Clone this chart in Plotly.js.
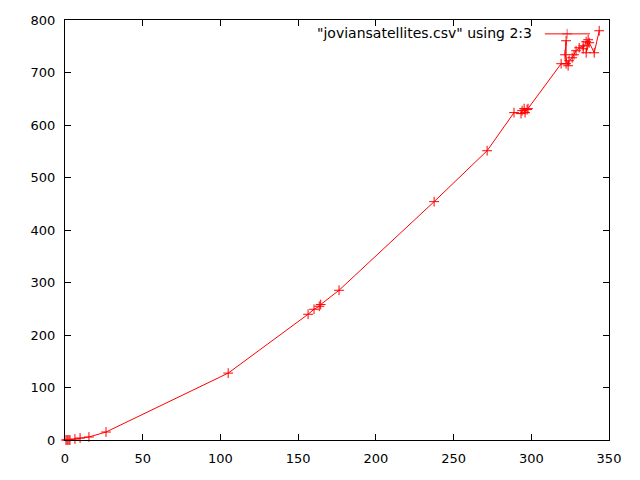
<!DOCTYPE html>
<html>
<head>
<meta charset="utf-8">
<script src="https://cdn.plot.ly/plotly-3.0.1.min.js"></script>
<style>html,body{margin:0;padding:0;background:#fff;}#chart{width:640px;height:480px;}</style>
</head>
<body>
<div id="chart"></div>
<script>
// Data (column 2 vs column 3)
const xValues = [0.6, 1.3, 1.9, 2.6, 3.2, 6.4, 9.7, 15.4, 26.4, 105.0,
  156.4, 160.2, 163.6, 164.5, 176.3, 237.5, 271.6,
  288.9, 293.4, 294.1, 295.4, 296.0, 297.3, 297.9,
  319.2, 322.4, 322.4, 321.7, 323.7, 324.3, 326.3, 327.5, 328.8, 330.8,
  333.4, 333.4, 335.3, 336.6, 335.3, 337.3, 340.5, 343.7];
const yValues = [0, 0, 0, 0, 0, 1.9, 3.8, 5.7, 15.2, 127.4,
  239.5, 249.0, 254.7, 258.0, 285.2, 454.0, 551.0,
  623.6, 621.7, 627.4, 631.2, 623.6, 629.3, 631.2,
  716.7, 716.7, 760.5, 733.8, 712.9, 722.4, 728.1, 733.8, 741.4, 747.1,
  750.9, 745.2, 758.6, 762.4, 737.6, 756.7, 737.6, 779.5];
const seriesName = '"joviansatellites.csv" using 2:3';
const xTicks = [0, 50, 100, 150, 200, 250, 300, 350];
const yTicks = [0, 100, 200, 300, 400, 500, 600, 700, 800];

const red = '#ff0000';
const font = {family: 'DejaVu Sans, sans-serif', size: 13, color: '#000'};
const keyFont = {family: 'DejaVu Sans, sans-serif', size: 14, color: '#000'};

const traces = [
  {
    x: xValues, y: yValues, type: 'scatter', mode: 'lines+markers',
    name: seriesName, cliponaxis: false,
    line: {color: red, width: 1},
    marker: {symbol: 'cross-thin-open', size: 7, line: {color: red, width: 1}, color: red},
    showlegend: false
  },
  {
    // legend sample (gnuplot-style key: text then line sample)
    x: [0.882, 0.923, 0.965], y: [0.967, 0.967, 0.967],
    xaxis: 'x2', yaxis: 'y2', type: 'scatter', mode: 'lines+markers',
    line: {color: red, width: 1},
    marker: {symbol: 'cross-thin-open', size: [0, 7, 0], line: {color: red, width: 1}},
    showlegend: false, hoverinfo: 'skip'
  }
];

const layout = {
  width: 640, height: 480,
  margin: {l: 65, r: 31, t: 20, b: 40, pad: 0},
  paper_bgcolor: '#fff', plot_bgcolor: '#fff',
  font: font,
  showlegend: false,
  xaxis: {
    range: [0, 350], tickvals: xTicks, ticktext: xTicks.map(String),
    ticks: 'inside', ticklen: 6, tickcolor: '#000', tickwidth: 1,
    showline: true, linecolor: '#000', linewidth: 1, mirror: 'ticks',
    showgrid: false, zeroline: false, tickfont: font, ticklabelstandoff: 6
  },
  yaxis: {
    range: [0, 800], tickvals: yTicks, ticktext: yTicks.map(String),
    ticks: 'inside', ticklen: 6, tickcolor: '#000', tickwidth: 1,
    showline: true, linecolor: '#000', linewidth: 1, mirror: 'ticks',
    showgrid: false, zeroline: false, tickfont: font, ticklabelstandoff: 6
  },
  xaxis2: {overlaying: 'x', range: [0, 1], visible: false, fixedrange: true},
  yaxis2: {overlaying: 'y', range: [0, 1], visible: false, fixedrange: true},
  annotations: [{
    xref: 'paper', yref: 'paper', x: 0.862, y: 0.969,
    xanchor: 'right', yanchor: 'middle', showarrow: false,
    text: seriesName, font: keyFont
  }]
};

Plotly.newPlot('chart', traces, layout, {displayModeBar: false, staticPlot: true});
</script>
</body>
</html>
